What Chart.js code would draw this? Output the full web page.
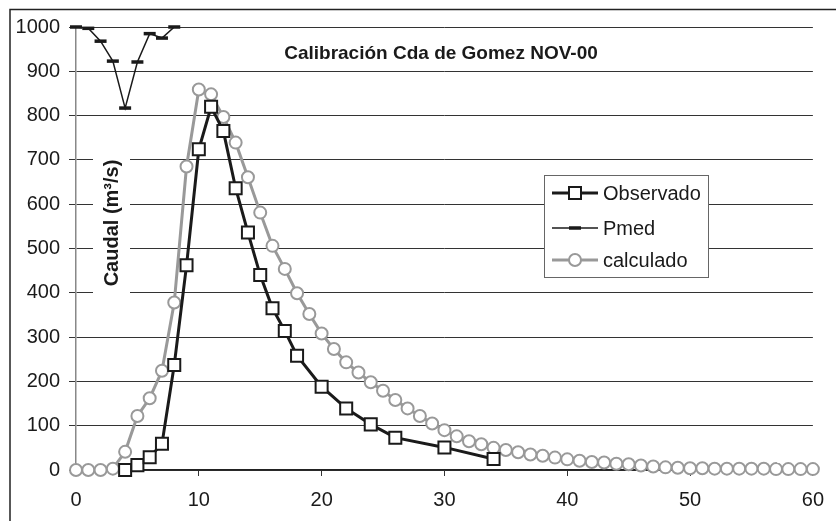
<!DOCTYPE html>
<html lang="es">
<head>
<meta charset="UTF-8">
<title>Calibración Cda de Gomez NOV-00</title>
<script src="https://cdn.jsdelivr.net/npm/chart.js"></script>
<style>
  html, body { margin: 0; padding: 0; background: #fff; }
  #wrap { width: 836px; height: 521px; }
</style>
</head>
<body>
<div id="wrap"><canvas id="chart" width="836" height="521"></canvas></div>
<script>
// Observado (measured discharge)
const obsT = [4, 5, 6, 7, 8, 9, 10, 11, 12, 13, 14, 15, 16, 17, 18, 20, 22, 24, 26, 30, 34];
const obsQ = [0, 11, 29, 59, 237, 462, 724, 820, 765, 636, 536, 440, 365, 314, 258, 188, 139, 103, 73, 51, 25];

// Pmed (rainfall, drawn hanging from the top of the axis)
const pmedT = [0, 1, 2, 3, 4, 5, 6, 7, 8];
const pmedQ = [1000, 997, 968, 923, 817, 921, 985, 975, 1000];

// calculado (model)
const calcT = [0, 1, 2, 3, 4, 5, 6, 7, 8, 9, 10, 11, 12, 13, 14, 15, 16, 17, 18, 19, 20,
  21, 22, 23, 24, 25, 26, 27, 28, 29, 30, 31, 32, 33, 34, 35, 36, 37, 38, 39, 40,
  41, 42, 43, 44, 45, 46, 47, 48, 49, 50, 51, 52, 53, 54, 55, 56, 57, 58, 59, 60];
const calcQ = [0, 0, 0, 3, 41, 122, 162, 224, 378, 685, 859, 848, 797, 739, 661, 581, 506, 454, 399, 352, 308,
  273, 243, 220, 198, 179, 158, 139, 122, 105, 90, 76, 65, 58, 50, 45, 40, 35, 32, 28, 24,
  21, 18, 17, 14, 13, 10, 8, 6, 5, 4, 4, 3, 3, 3, 3, 3, 2, 2, 2, 2];

const xTicks = [0, 10, 20, 30, 40, 50, 60];
const yTicks = [0, 100, 200, 300, 400, 500, 600, 700, 800, 900, 1000];

const FONT = "'Liberation Sans', Arial, sans-serif";
const pts = (xs, ys) => xs.map((x, i) => ({ x: x, y: ys[i] }));

// frame, titles and the boxed legend are drawn by hand
const overlay = {
  id: 'overlay',
  beforeDraw(chart) {
    const c = chart.ctx;
    c.save();
    c.fillStyle = '#fff';
    c.fillRect(0, 0, chart.width, chart.height);
    c.restore();
  },
  afterDraw(chart) {
    const c = chart.ctx;
    c.save();

    // outer frame (cut at right and bottom)
    c.strokeStyle = '#222';
    c.lineWidth = 1.5;
    c.beginPath();
    c.moveTo(10, 521);
    c.lineTo(10, 9.5);
    c.lineTo(836, 9.5);
    c.stroke();

    // title
    c.fillStyle = '#1a1a1a';
    c.font = 'bold 19px ' + FONT;
    c.textAlign = 'center';
    c.textBaseline = 'alphabetic';
    c.fillText('Calibración Cda de Gomez NOV-00', 441, 59);

    // y title with white box behind
    c.fillStyle = '#fff';
    c.fillRect(93, 150, 37, 146);
    c.save();
    c.translate(118, 223);
    c.rotate(-Math.PI / 2);
    c.fillStyle = '#1a1a1a';
    c.font = 'bold 20px ' + FONT;
    c.textAlign = 'center';
    c.fillText('Caudal (m³/s)', 0, 0);
    c.restore();

    // x title
    c.font = 'bold 20px ' + FONT;
    c.textAlign = 'left';
    c.fillText('T (hs)', 756, 459);

    // legend
    const lx = 544.5, ly = 175.5, lw = 164, lh = 102;
    c.fillStyle = '#fff';
    c.fillRect(lx, ly, lw, lh);
    c.strokeStyle = '#666';
    c.lineWidth = 1;
    c.strokeRect(lx, ly, lw, lh);

    const rows = chart.data.datasets.map((ds, i) => ({ ds: ds, y: [193, 228, 260][i] }));
    c.font = '20px ' + FONT;
    c.textBaseline = 'middle';
    rows.forEach(r => {
      const ds = r.ds;
      c.strokeStyle = ds.borderColor;
      c.lineWidth = ds.borderWidth;
      c.beginPath();
      c.moveTo(552, r.y);
      c.lineTo(598, r.y);
      c.stroke();
      c.lineWidth = ds.pointBorderWidth;
      c.strokeStyle = ds.pointBorderColor;
      c.fillStyle = ds.pointBackgroundColor;
      if (ds.pointStyle === 'rect') {
        c.fillRect(569, r.y - 6, 12, 12);
        c.strokeRect(569, r.y - 6, 12, 12);
      } else if (ds.pointStyle === 'circle') {
        c.beginPath();
        c.arc(575, r.y, 6, 0, Math.PI * 2);
        c.fill();
        c.stroke();
      } else {
        c.beginPath();
        c.moveTo(569, r.y);
        c.lineTo(581, r.y);
        c.stroke();
      }
      c.fillStyle = '#1a1a1a';
      c.fillText(ds.label, 603, r.y + 1);
    });

    c.restore();
  }
};

new Chart(document.getElementById('chart'), {
  type: 'line',
  data: {
    datasets: [
      {
        label: 'Observado',
        data: pts(obsT, obsQ),
        borderColor: '#1a1a1a',
        borderWidth: 3,
        pointStyle: 'rect',
        pointRadius: 8.5,
        pointBorderWidth: 2,
        pointBorderColor: '#1a1a1a',
        pointBackgroundColor: '#fff',
        tension: 0,
        clip: false
      },
      {
        label: 'Pmed',
        data: pts(pmedT, pmedQ),
        borderColor: '#1a1a1a',
        borderWidth: 1.5,
        pointStyle: 'line',
        pointRadius: 6,
        pointBorderWidth: 3.5,
        pointBorderColor: '#1a1a1a',
        pointBackgroundColor: '#1a1a1a',
        tension: 0,
        clip: false
      },
      {
        label: 'calculado',
        data: pts(calcT, calcQ),
        borderColor: '#999',
        borderWidth: 3,
        pointStyle: 'circle',
        pointRadius: 6,
        pointBorderWidth: 2,
        pointBorderColor: '#999',
        pointBackgroundColor: '#fff',
        tension: 0,
        clip: false
      }
    ]
  },
  options: {
    responsive: false,
    animation: false,
    layout: { padding: { top: 27, right: 13, left: 0, bottom: 0 } },
    plugins: {
      legend: { display: false },
      title: { display: false },
      tooltip: { enabled: false }
    },
    scales: {
      x: {
        type: 'linear',
        min: 0,
        max: 60,
        afterBuildTicks: s => { s.ticks = xTicks.map(v => ({ value: v })); },
        afterFit: s => { s.height = 51; },
        ticks: { color: '#1a1a1a', font: { family: FONT, size: 20 }, padding: 12, maxRotation: 0,
          callback: v => String(v) },
        grid: { drawOnChartArea: false, drawTicks: true, tickLength: 6, color: '#333', lineWidth: 1 },
        border: { color: '#222', width: 1.5 }
      },
      y: {
        type: 'linear',
        min: 0,
        max: 1000,
        afterBuildTicks: s => { s.ticks = yTicks.map(v => ({ value: v })); },
        afterFit: s => { s.width = 76; },
        ticks: { color: '#1a1a1a', font: { family: FONT, size: 20 }, padding: 9,
          callback: v => String(v) },
        grid: { color: '#333', lineWidth: 1, tickLength: 7 },
        border: { color: '#888', width: 1.5 }
      }
    }
  },
  plugins: [overlay]
});
</script>
</body>
</html>
